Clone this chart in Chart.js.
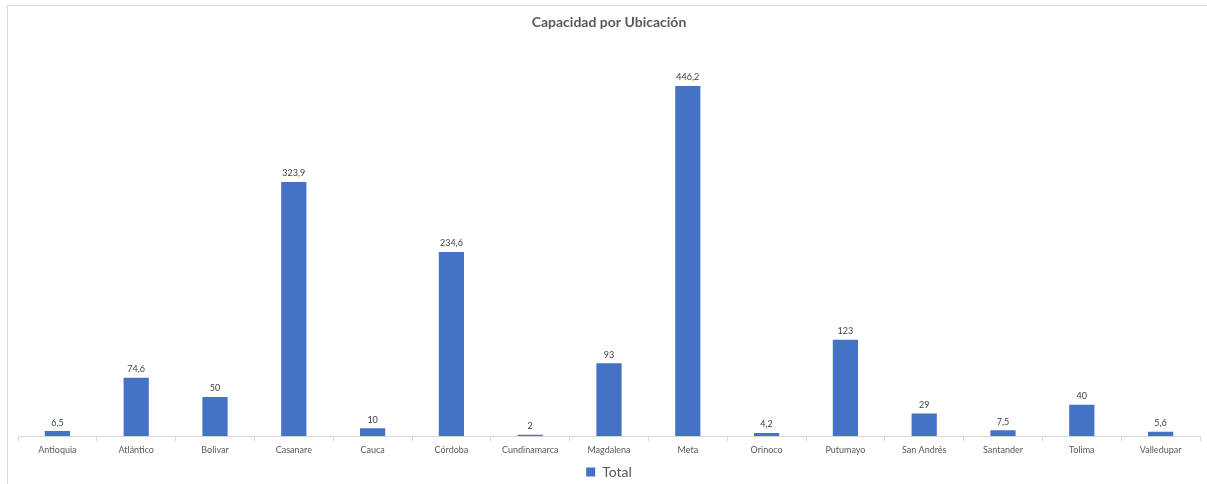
<!DOCTYPE html>
<html>
<head>
<meta charset="utf-8">
<script src="https://cdn.jsdelivr.net/npm/chart.js@4.4.1/dist/chart.umd.min.js"></script>
<style>
    body { margin: 0; background: #fff; }
    #wrap { position: relative; width: 1207px; height: 484px; overflow: hidden; }
    #frame { position: absolute; left: 7px; top: 5px; width: 1220px; height: 500px; border: 1px solid #d9d9d9; }
    #chart { position: absolute; left: 0; top: 0; }
</style>
</head>
<body>
<div id="wrap">
    <div id="frame"></div>
    <canvas id="chart" width="1207" height="489"></canvas>
</div>
<script>
const ubicaciones = ['Antioquia', 'Atlántico', 'Bolivar', 'Casanare', 'Cauca', 'Córdoba', 'Cundinamarca',
    'Magdalena', 'Meta', 'Orinoco', 'Putumayo', 'San Andrés', 'Santander', 'Tolima', 'Valledupar'];
const capacidad = [6.5, 74.6, 50, 323.9, 10, 234.6, 2, 93, 446.2, 4.2, 123, 29, 7.5, 40, 5.6];

const FONT = 'Lato, "Open Sans", sans-serif';

// etiquetas de valor encima de cada barra (coma decimal)
const valueLabels = {
    id: 'valueLabels',
    afterDatasetsDraw(chart) {
        const ctx = chart.ctx;
        const meta = chart.getDatasetMeta(0);
        ctx.save();
        ctx.font = '9px ' + FONT;
        ctx.fillStyle = '#404040';
        ctx.textAlign = 'center';
        ctx.textBaseline = 'bottom';
        meta.data.forEach((bar, i) => {
            const txt = String(capacidad[i]).replace('.', ',');
            ctx.fillText(txt, bar.x, bar.y - 4);
        });
        ctx.restore();
    }
};

new Chart(document.getElementById('chart'), {
    type: 'bar',
    data: {
        labels: ubicaciones,
        datasets: [{
            label: 'Total',
            data: capacidad,
            backgroundColor: '#4472C4',
            borderWidth: 0,
            categoryPercentage: 1,
            barPercentage: 0.32
        }]
    },
    options: {
        responsive: false,
        devicePixelRatio: 1,
        animation: false,
        layout: { padding: { left: 18, right: 7, top: 0, bottom: 0 } },
        plugins: {
            title: {
                display: true,
                text: 'Capacidad por Ubicación',
                color: '#595959',
                font: { family: FONT, size: 14, weight: 'bold' },
                padding: { top: 14, bottom: 13 }
            },
            legend: {
                position: 'bottom',
                labels: {
                    color: '#595959',
                    font: { family: FONT, size: 14 },
                    boxWidth: 9,
                    boxHeight: 9,
                    padding: 7
                }
            },
            tooltip: { enabled: false }
        },
        scales: {
            x: {
                grid: {
                    display: true,
                    drawOnChartArea: false,
                    drawTicks: true,
                    tickLength: 5,
                    color: '#d9d9d9'
                },
                border: { color: '#d9d9d9' },
                ticks: {
                    color: '#595959',
                    font: { family: FONT, size: 9 },
                    padding: 3,
                    maxRotation: 0,
                    autoSkip: false
                }
            },
            y: {
                display: false,
                min: 0,
                max: 500
            }
        }
    },
    plugins: [valueLabels]
});
</script>
</body>
</html>
